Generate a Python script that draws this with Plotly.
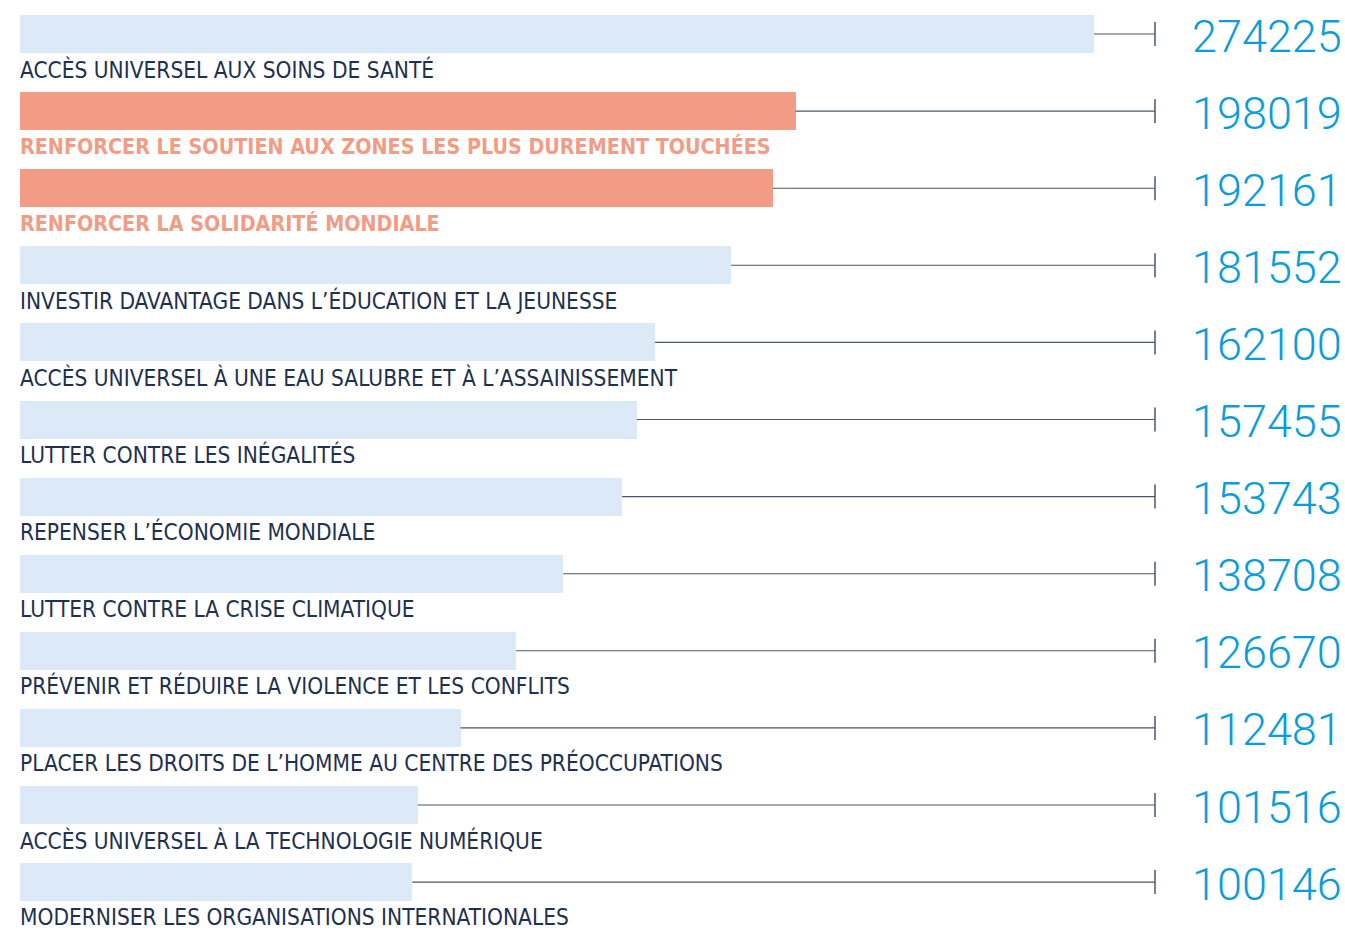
import plotly.graph_objects as go

categories = [
    "ACCÈS UNIVERSEL AUX SOINS DE SANTÉ",
    "RENFORCER LE SOUTIEN AUX ZONES LES PLUS DUREMENT TOUCHÉES",
    "RENFORCER LA SOLIDARITÉ MONDIALE",
    "INVESTIR DAVANTAGE DANS L’ÉDUCATION ET LA JEUNESSE",
    "ACCÈS UNIVERSEL À UNE EAU SALUBRE ET À L’ASSAINISSEMENT",
    "LUTTER CONTRE LES INÉGALITÉS",
    "REPENSER L’ÉCONOMIE MONDIALE",
    "LUTTER CONTRE LA CRISE CLIMATIQUE",
    "PRÉVENIR ET RÉDUIRE LA VIOLENCE ET LES CONFLITS",
    "PLACER LES DROITS DE L’HOMME AU CENTRE DES PRÉOCCUPATIONS",
    "ACCÈS UNIVERSEL À LA TECHNOLOGIE NUMÉRIQUE",
    "MODERNISER LES ORGANISATIONS INTERNATIONALES",
]
values = [274225, 198019, 192161, 181552, 162100, 157455, 153743, 138708, 126670, 112481, 101516, 100146]
highlight = [False, True, True, False, False, False, False, False, False, False, False, False]

W, H = 1345, 932
LEFT_PX = 20
k = 1074 / 274225  # px per unit
x_min = -LEFT_PX / k
x_max = (W - LEFT_PX) / k
line_end = (1155 - LEFT_PX) / k
row_px = 77.1
top_px = 34
y_top = -top_px / row_px
y_bot = (H - top_px) / row_px

LIGHT = "#dce9f7"
SALMON = "#f29b85"
LINE = "#4a5666"
NUM = "#0b9ddb"
TXT = "#1f3150"

LABEL_FONT = "DejaVu Sans Condensed, DejaVu Sans, sans-serif"
NUM_FONT = "Roboto, Liberation Sans, sans-serif"

ys = list(range(len(values)))
colors = [SALMON if h else LIGHT for h in highlight]

fig = go.Figure()
fig.add_trace(go.Bar(
    x=values, y=ys, orientation="h", base=0,
    marker=dict(color=colors, line=dict(width=0)),
    width=38 / row_px, hoverinfo="skip", showlegend=False,
))

# connector lines and end ticks
lx, ly, tx, ty = [], [], [], []
for i, v in enumerate(values):
    lx += [v, line_end, None]
    ly += [i, i, None]
    tx += [line_end, line_end, None]
    ty += [i - 12 / row_px, i + 12 / row_px, None]
fig.add_trace(go.Scatter(x=lx, y=ly, mode="lines", line=dict(color=LINE, width=1.1),
                         hoverinfo="skip", showlegend=False))
fig.add_trace(go.Scatter(x=tx, y=ty, mode="lines", line=dict(color=LINE, width=1.5),
                         hoverinfo="skip", showlegend=False))

annotations = []
for i, (c, v, h) in enumerate(zip(categories, values, highlight)):
    annotations.append(dict(
        x=0, y=i + 35 / row_px, xref="x", yref="y", xanchor="left", yanchor="middle",
        xshift=-2,
        text=f"<b>{c}</b>" if h else c, showarrow=False,
        font=dict(family=LABEL_FONT, size=21.3 if h else 22.5, color=SALMON if h else TXT),
    ))
    annotations.append(dict(
        x=1344 / W, y=i + 2 / row_px, xref="paper", yref="y", xanchor="right", yanchor="middle",
        text=str(v), showarrow=False,
        font=dict(family=NUM_FONT, size=45, color=NUM, weight=300),
    ))

fig.update_layout(
    width=W, height=H, margin=dict(l=0, r=0, t=0, b=0),
    paper_bgcolor="white", plot_bgcolor="white",
    xaxis=dict(range=[x_min, x_max], visible=False, fixedrange=True),
    yaxis=dict(range=[y_bot, y_top], visible=False, fixedrange=True),
    annotations=annotations, bargap=0,
)
fig.write_html("out.html", config=dict(displayModeBar=False),
               post_script="document.body.style.margin='0px';document.body.style.overflow='hidden';")
